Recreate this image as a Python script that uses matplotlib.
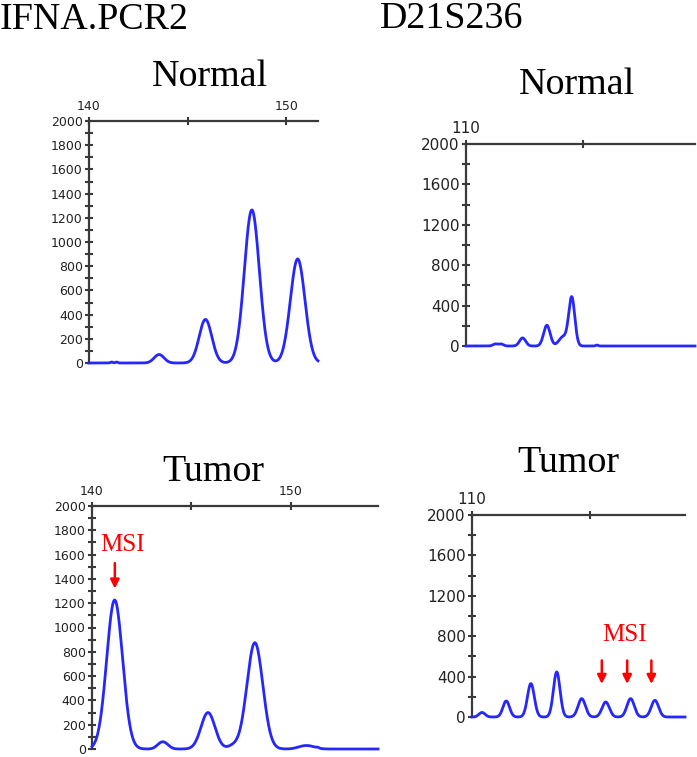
import numpy as np
import matplotlib
matplotlib.use("Agg")
import matplotlib.pyplot as plt

W, H = 697, 757

# ---------------- data ----------------
# IFNA.PCR2 Normal: peak positions (bp), heights, widths
ifna_normal_pos = [141.15, 141.4, 143.55, 145.9, 148.25, 150.57]
ifna_normal_hgt = [8, 8, 70, 360, 1265, 860]
ifna_normal_wid = [0.06, 0.06, 0.25, 0.32, 0.38, 0.37]

# IFNA.PCR2 Tumor
ifna_tumor_pos = [141.14, 143.4, 143.65, 145.84, 147.1, 148.2, 150.6, 151.0, 151.36]
ifna_tumor_hgt = [1226, 25, 45, 300, 25, 875, 18, 18, 6]
ifna_tumor_wid = [0.40, 0.2, 0.22, 0.35, 0.25, 0.40, 0.3, 0.3, 0.06]

# D21S236 Normal
d21_normal_pos = [112.5, 113.0, 114.84, 116.92, 118.3, 119.05, 121.2]
d21_normal_hgt = [20, 20, 80, 205, 90, 480, 10]
d21_normal_wid = [0.2, 0.2, 0.26, 0.28, 0.35, 0.26, 0.1]

# D21S236 Tumor
d21_tumor_pos = [110.85, 112.9, 114.99, 117.18, 119.3, 121.33, 123.44, 125.5]
d21_tumor_hgt = [45, 159, 331, 446, 182, 149, 182, 165]
d21_tumor_wid = [0.26, 0.28, 0.29, 0.28, 0.31, 0.31, 0.31, 0.31]

msi_left_x = [141.15]
msi_right_x = [121.0, 123.15, 125.2]

ifna_xticks = [140, 145, 150]
ifna_xticklabels = ["140", "", "150"]
d21_xticks = [110, 120]
d21_xticklabels = ["110", ""]
ifna_yticks = list(range(0, 2001, 200))
ifna_yminor = list(range(0, 2001, 100))
d21_yticks = list(range(0, 2001, 400))
d21_yminor = list(range(0, 2001, 200))

# ---------------- drawing ----------------
fig = plt.figure(figsize=(W / 100, H / 100), dpi=100)
fig.patch.set_facecolor("white")

TRACE = "#2626ff"
AXC = "#3a3a3a"
SERIF = "Liberation Serif"


def px_axes(x0, y0, x1, y1):
    return fig.add_axes([x0 / W, 1 - y1 / H, (x1 - x0) / W, (y1 - y0) / H])


def trace(ax, pos, hgt, wid, xlim):
    x = np.linspace(xlim[0], xlim[1], 2000)
    y = np.zeros_like(x)
    for p, h, w in zip(pos, hgt, wid):
        y += h * np.exp(-0.5 * ((x - p) / w) ** 2)
    ax.plot(x, y, color=TRACE, lw=2.0, clip_on=False, zorder=3)


def style(ax, xlim, xticks, xticklabels, yticks, yminor, lsize):
    ax.set_xlim(*xlim)
    ax.set_ylim(0, 2000)
    ax.xaxis.tick_top()
    ax.set_xticks(xticks)
    ax.set_xticklabels(xticklabels)
    ax.set_yticks(yticks)
    ax.set_yticks(yminor, minor=True)
    for s in ("bottom", "right"):
        ax.spines[s].set_visible(False)
    for s in ("top", "left"):
        ax.spines[s].set_color(AXC)
        ax.spines[s].set_linewidth(1.6)
    ax.tick_params(axis="both", which="both", direction="inout", length=6,
                   width=1.5, color=AXC, labelcolor="#222222",
                   labelsize=lsize)
    ax.tick_params(axis="y", pad=1.5)
    ax.tick_params(axis="x", pad=3)
    for lab in ax.get_xticklabels() + ax.get_yticklabels():
        lab.set_family("DejaVu Sans")
    ax.set_facecolor("none")


# Top-left: IFNA.PCR2 Normal
xl = (140, 151.6)
ax1 = px_axes(89, 121, 318, 363)
trace(ax1, ifna_normal_pos, ifna_normal_hgt, ifna_normal_wid, xl)
style(ax1, xl, ifna_xticks, ifna_xticklabels, ifna_yticks, ifna_yminor, 9)

# Top-right: D21S236 Normal
xl = (110, 129.6)
ax2 = px_axes(466, 144, 695, 346)
trace(ax2, d21_normal_pos, d21_normal_hgt, d21_normal_wid, xl)
style(ax2, xl, d21_xticks, d21_xticklabels, d21_yticks, d21_yminor, 11)

# Bottom-left: IFNA.PCR2 Tumor
xl = (140, 154.4)
ax3 = px_axes(92, 506, 378, 749)
trace(ax3, ifna_tumor_pos, ifna_tumor_hgt, ifna_tumor_wid, xl)
style(ax3, xl, ifna_xticks, ifna_xticklabels, ifna_yticks, ifna_yminor, 9)

# Bottom-right: D21S236 Tumor
xl = (110, 128.05)
ax4 = px_axes(472, 515, 685, 717)
trace(ax4, d21_tumor_pos, d21_tumor_hgt, d21_tumor_wid, xl)
style(ax4, xl, d21_xticks, d21_xticklabels, d21_yticks, d21_yminor, 11)

# MSI annotations
arrowprops = dict(arrowstyle="-|>", color="#ff0000", lw=1.8,
                  mutation_scale=13, shrinkA=0, shrinkB=0)
for xm in msi_left_x:
    ax3.annotate("", xy=(xm, 1320), xytext=(xm, 1530),
                 arrowprops=arrowprops, annotation_clip=False)
ax3.text(141.56, 1630, "MSI", color="#ff0000", fontsize=18,
         family=SERIF, ha="center", va="baseline")
for xm in msi_right_x:
    ax4.annotate("", xy=(xm, 327), xytext=(xm, 560),
                 arrowprops=arrowprops, annotation_clip=False)
ax4.text(122.9, 752, "MSI", color="#ff0000", fontsize=18,
         family=SERIF, ha="center", va="baseline")

# Titles
def ftext(x, y, s, ha="left", size=27.4):
    fig.text(x / W, 1 - y / H, s, ha=ha, va="baseline", fontsize=size,
             family=SERIF, color="black")

ftext(0, 29, "IFNA.PCR2")
ftext(380, 28, "D21S236")
ftext(209.5, 86, "Normal", ha="center")
ftext(577, 94, "Normal", ha="center")
ftext(213, 481, "Tumor", ha="center")
ftext(568, 471.5, "Tumor", ha="center")

fig.savefig("out.png", dpi=100, facecolor="white")
